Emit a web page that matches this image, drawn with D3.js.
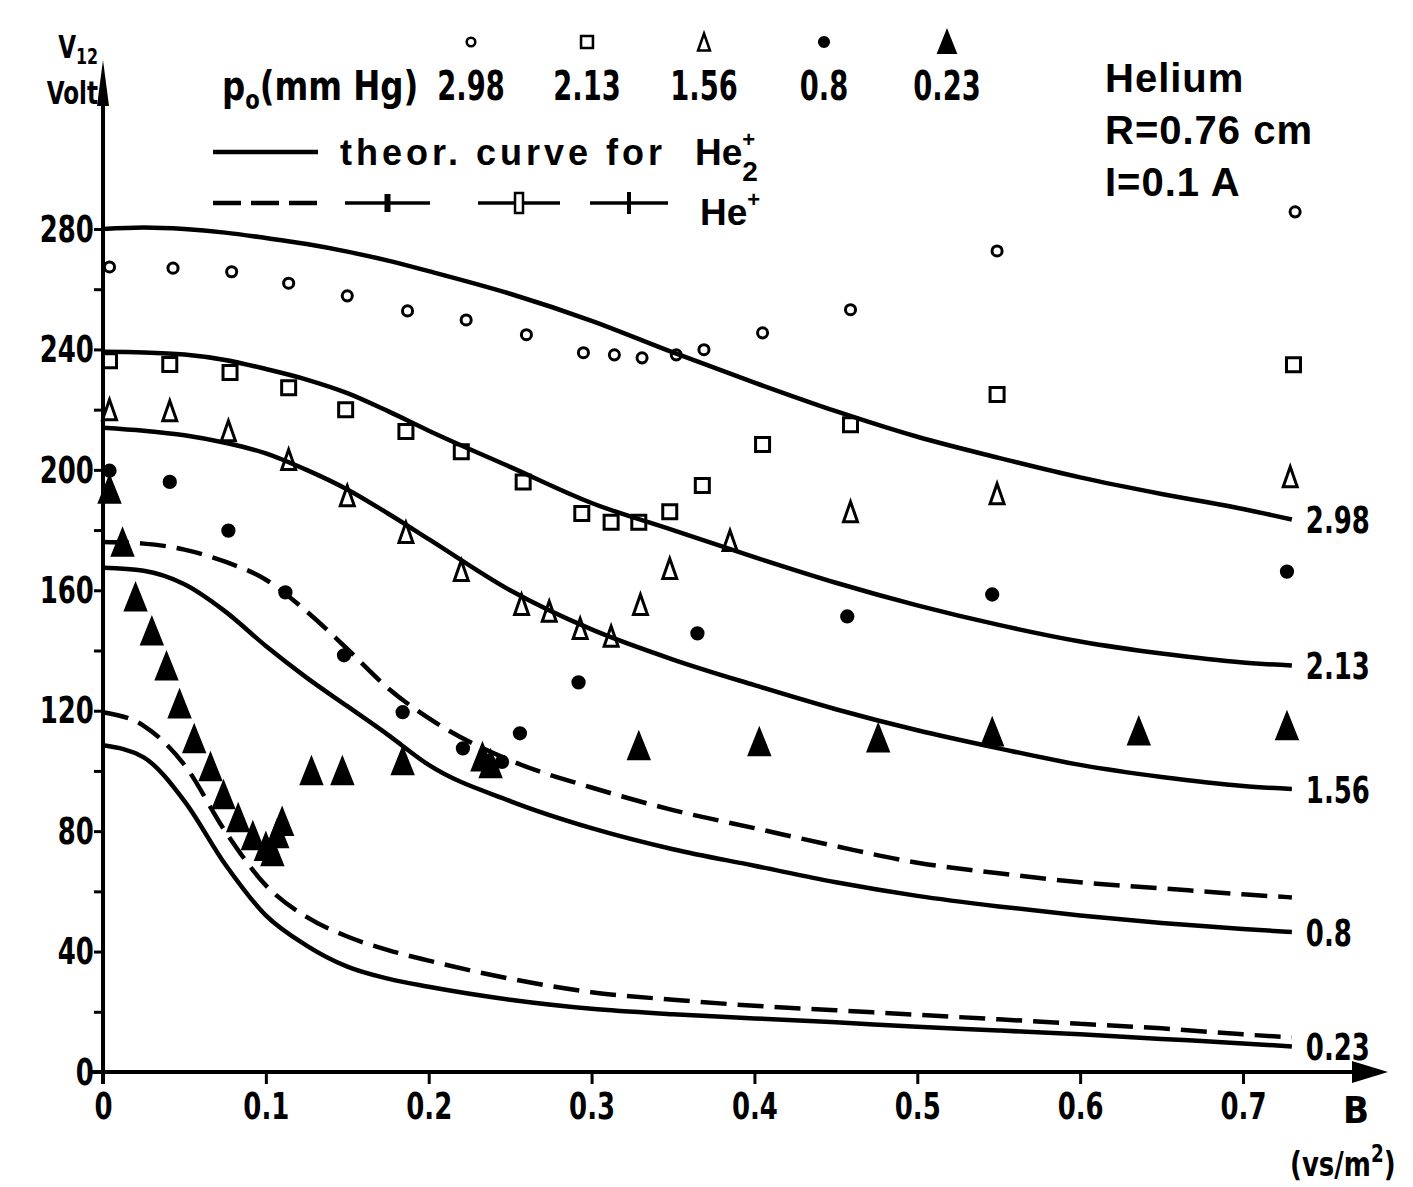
<!DOCTYPE html>
<html>
<head>
<meta charset="utf-8">
<script src="https://cdn.jsdelivr.net/npm/d3@7"></script>
<style>
  body { margin: 0; background: #fff; }
  svg text { font-family: "DejaVu Sans Condensed", "DejaVu Sans", sans-serif; font-weight: bold; fill: #000; }
  svg text.wide { font-family: "Liberation Sans", "DejaVu Sans", sans-serif; }
</style>
</head>
<body>
<svg id="chart" width="1413" height="1187"></svg>
<script>
(function () {
  "use strict";

  // ---- data (B in Vs/m^2, V12 in volt) ----
  var pressures = ["2.98", "2.13", "1.56", "0.8", "0.23"];

  // B positions at which the theoretical curves were sampled
  var curveB = [0, 0.025, 0.05, 0.075, 0.1, 0.125, 0.15, 0.175, 0.2, 0.25,
                0.3, 0.35, 0.4, 0.45, 0.5, 0.55, 0.6, 0.65, 0.7, 0.73];

  // theoretical curves for He2+ (solid)
  var he2_298 = [280, 280.5, 280, 278.8, 277, 275, 272.5, 269.5, 266, 258.5,
                 249.5, 239, 229, 219.5, 211, 204, 197.5, 192, 187, 183.5];
  var he2_213 = [239.2, 239, 238.3, 236.5, 233.5, 230, 225.5, 219.5, 213, 201,
                 189, 180, 171, 162.5, 155, 148.5, 143, 139, 136, 135];
  var he2_156 = [214, 213, 211.5, 209, 205.5, 200, 193.5, 185.5, 177, 160,
                 147, 137, 128.5, 120.5, 113.5, 107.5, 102, 98, 95, 94];
  var he2_08  = [167.5, 166.5, 162, 153, 141.5, 131, 121.5, 112, 102, 90,
                 81, 74, 68.5, 63, 58.5, 55, 52, 49.5, 47.5, 46.5];
  var he2_023 = [108.5, 104.5, 90, 69, 52, 42, 35, 31, 28.3, 24,
                 21, 19.2, 17.8, 16.5, 15, 13.8, 12.5, 11, 9.5, 8.5];

  // theoretical curves for He+ (dashed)
  var he1_08  = [176, 175.5, 173.5, 169.5, 163.5, 153, 140.5, 127.5, 117.5, 103.5,
                 94.5, 87, 81, 75, 69.5, 66, 63, 61, 59, 58];
  var he1_023 = [119.5, 115, 102, 80, 62, 51.5, 45, 40.5, 37, 31,
                 26.5, 24, 22, 20.5, 19, 17.5, 16, 14.5, 12.5, 11.5];

  // measured points [B, V12]
  var pts298 = [[0.004, 267.4], [0.043, 267], [0.079, 265.8], [0.114, 262], [0.150, 257.8],
                [0.187, 252.8], [0.223, 249.8], [0.260, 244.9], [0.295, 238.9], [0.314, 238.2],
                [0.331, 237.2], [0.352, 238.2], [0.369, 239.9], [0.405, 245.5], [0.459, 253.2],
                [0.549, 272.7], [0.732, 285.7]];
  var pts213 = [[0.004, 236.2], [0.041, 235], [0.078, 232.3], [0.114, 227.3], [0.149, 220],
                [0.186, 212.7], [0.220, 206], [0.258, 196], [0.294, 185.5], [0.312, 182.6],
                [0.329, 182.6], [0.348, 186.1], [0.368, 194.8], [0.405, 208.4], [0.459, 215],
                [0.549, 225], [0.731, 234.9]];
  var pts156 = [[0.004, 220], [0.041, 219.6], [0.077, 213], [0.114, 203.4], [0.150, 191.4],
                [0.186, 179.2], [0.220, 166.6], [0.257, 155.3], [0.274, 153], [0.293, 147.3],
                [0.312, 144.7], [0.330, 155.3], [0.348, 167.2], [0.385, 176.5], [0.459, 186.1],
                [0.549, 192.1], [0.729, 197.7]];
  var pts08 = [[0.004, 199.7], [0.041, 196], [0.077, 179.8], [0.112, 159.3], [0.148, 138.4],
               [0.184, 119.5], [0.221, 107.5], [0.245, 103], [0.256, 112.5], [0.292, 129.4],
               [0.365, 145.7], [0.457, 151.3], [0.546, 158.6], [0.727, 166.2]];
  var pts023 = [[0.004, 193.4], [0.012, 175.8], [0.020, 157.6], [0.030, 146.3], [0.039, 134.7],
                [0.047, 122.1], [0.056, 110.5], [0.066, 101.2], [0.074, 91.9], [0.083, 84.3],
                [0.092, 78.3], [0.100, 74.7], [0.104, 73], [0.107, 79], [0.110, 83],
                [0.128, 99.9], [0.147, 99.9], [0.184, 103.2], [0.233, 104.5], [0.238, 102.2],
                [0.329, 108.2], [0.403, 109.5], [0.476, 110.8], [0.546, 112.8], [0.636, 113.1],
                [0.727, 114.8]];

  var xTicks = [0, 0.1, 0.2, 0.3, 0.4, 0.5, 0.6, 0.7];
  var yTicks = [0, 40, 80, 120, 160, 200, 240, 280];
  var yMinor = [20, 60, 100, 140, 180, 220, 260];
  var params = ["Helium", "R=0.76 cm", "I=0.1 A"];

  // ---- drawing ----
  var svg = d3.select("#chart");
  var x = d3.scaleLinear().domain([0, 0.7]).range([103, 1243]);
  var y = d3.scaleLinear().domain([0, 280]).range([1072, 229]);
  var NARROW = 0.76;   // digits of the original lettering are tall and narrow

  // a text placed at (px, py) and squeezed horizontally
  function squeezed(parent, px, py, sx, size) {
    return parent.append("text")
        .attr("transform", "translate(" + px + "," + py + ") scale(" + sx + ",1)")
        .style("font-size", size + "px");
  }

  // marker shapes, one per pressure
  function triPath(w, h) {
    return "M0," + (-h / 2) + "L" + (w / 2) + "," + (h / 2) + "L" + (-w / 2) + "," + (h / 2) + "Z";
  }
  var markers = {
    "2.98": { path: d3.symbol(d3.symbolCircle, 80)(), fill: "none" },
    "2.13": { path: "M-7,-7H7V7H-7Z", fill: "none" },
    "1.56": { path: triPath(14, 20), fill: "none" },
    "0.8":  { path: d3.symbol(d3.symbolCircle, 100)(), fill: "#000" },
    "0.23": { path: triPath(20, 25), fill: "#000" }
  };
  var measured = { "2.98": pts298, "2.13": pts213, "1.56": pts156, "0.8": pts08, "0.23": pts023 };

  // axes
  var gy = svg.append("g").attr("transform", "translate(" + x(0) + ",0)")
      .call(d3.axisLeft(y).tickValues(yTicks).tickSize(9).tickPadding(3).tickFormat(d3.format("d")));
  gy.select(".domain").remove();
  gy.selectAll(".tick line").attr("stroke-width", 3);
  gy.selectAll(".tick text").style("font-size", "38px").attr("transform", "scale(" + NARROW + ",1)");
  var gym = svg.append("g").attr("transform", "translate(" + x(0) + ",0)")
      .call(d3.axisLeft(y).tickValues(yMinor).tickSize(9).tickFormat(""));
  gym.select(".domain").remove();
  gym.selectAll(".tick line").attr("stroke-width", 3);

  var gx = svg.append("g").attr("transform", "translate(0," + y(0) + ")")
      .call(d3.axisBottom(x).tickValues(xTicks).tickSize(12).tickPadding(8)
        .tickFormat(function (d) { return d === 0 ? "0" : d3.format(".1f")(d); }));
  gx.select(".domain").remove();
  gx.selectAll(".tick line").attr("stroke-width", 3);
  gx.selectAll(".tick text").style("font-size", "38px").attr("transform", "scale(" + NARROW + ",1)");

  // axis lines with arrows
  svg.append("line").attr("x1", 88).attr("x2", 1360).attr("y1", y(0)).attr("y2", y(0))
      .attr("stroke", "#000").attr("stroke-width", 4);
  svg.append("path").attr("d", "M1352," + (y(0) - 11) + "L1388," + y(0) + "L1352," + (y(0) + 11) + "Z");
  svg.append("line").attr("x1", x(0)).attr("x2", x(0)).attr("y1", y(0) + 12).attr("y2", 90)
      .attr("stroke", "#000").attr("stroke-width", 4);
  svg.append("path").attr("d", "M" + (x(0) - 6) + ",106L" + x(0) + ",60L" + (x(0) + 6) + ",106Z");

  // theoretical curves
  var line = d3.line()
      .x(function (d, i) { return x(curveB[i]); })
      .y(function (d) { return y(d); })
      .curve(d3.curveMonotoneX);
  var solidCurves = [he2_298, he2_213, he2_156, he2_08, he2_023];
  var dashedCurves = [he1_08, he1_023];
  svg.append("g").selectAll("path.solid").data(solidCurves).enter().append("path")
      .attr("class", "solid").attr("d", line)
      .attr("fill", "none").attr("stroke", "#000").attr("stroke-width", 4.5);
  svg.append("g").selectAll("path.dashed").data(dashedCurves).enter().append("path")
      .attr("class", "dashed").attr("d", line)
      .attr("fill", "none").attr("stroke", "#000").attr("stroke-width", 4.5)
      .attr("stroke-dasharray", "26,11");

  // curve labels at the right end
  solidCurves.forEach(function (c, i) {
    squeezed(svg, x(0.73) + 14, y(c[c.length - 1]), NARROW, 38)
        .attr("dy", "0.36em").text(pressures[i]);
  });

  // measured points
  pressures.forEach(function (p) {
    var m = markers[p];
    svg.append("g").selectAll("path").data(measured[p]).enter().append("path")
        .attr("d", m.path)
        .attr("transform", function (d) { return "translate(" + x(d[0]) + "," + y(d[1]) + ")"; })
        .attr("fill", m.fill).attr("stroke", "#000").attr("stroke-width", 3);
  });

  // ---- legend ----
  var lg = svg.append("g");
  var pText = squeezed(lg, 222, 100, 0.9, 40);
  pText.append("tspan").text("p");
  pText.append("tspan").attr("dy", 9).style("font-size", "26px").text("o");
  pText.append("tspan").attr("dy", -9).text("(mm Hg)");

  var legendX = [471, 587, 704, 824, 947];
  pressures.forEach(function (p, i) {
    squeezed(lg, legendX[i], 100, NARROW, 40).attr("text-anchor", "middle").text(p);
    lg.append("path").attr("d", markers[p].path)
        .attr("transform", "translate(" + legendX[i] + ",42) scale(0.85)")
        .attr("fill", markers[p].fill).attr("stroke", "#000").attr("stroke-width", 3);
  });

  lg.append("line").attr("x1", 213).attr("x2", 318).attr("y1", 152).attr("y2", 152)
      .attr("stroke", "#000").attr("stroke-width", 4.5);
  lg.append("text").attr("class", "wide").attr("x", 340).attr("y", 165)
      .style("font-size", "36px").style("letter-spacing", "4px").text("theor. curve for");
  var he2 = lg.append("text").attr("class", "wide").attr("x", 695).attr("y", 165).style("font-size", "37px");
  he2.append("tspan").text("He");
  he2.append("tspan").attr("dy", -18).style("font-size", "22px").text("+");
  he2.append("tspan").attr("dx", -13).attr("dy", 34).style("font-size", "28px").text("2");

  // He+ line styles
  lg.append("line").attr("x1", 213).attr("x2", 318).attr("y1", 203).attr("y2", 203)
      .attr("stroke", "#000").attr("stroke-width", 4.5).attr("stroke-dasharray", "28,10");
  [[345, 430, "bar"], [478, 560, "box"], [590, 668, "cross"]].forEach(function (s) {
    var mid = (s[0] + s[1]) / 2;
    lg.append("line").attr("x1", s[0]).attr("x2", s[1]).attr("y1", 203).attr("y2", 203)
        .attr("stroke", "#000").attr("stroke-width", 3.5);
    if (s[2] === "bar") {
      lg.append("rect").attr("x", mid - 3).attr("y", 194).attr("width", 6).attr("height", 18);
    } else if (s[2] === "box") {
      lg.append("rect").attr("x", mid - 4).attr("y", 193).attr("width", 8).attr("height", 20)
          .attr("fill", "#fff").attr("stroke", "#000").attr("stroke-width", 2.5);
    } else {
      lg.append("line").attr("x1", mid).attr("x2", mid).attr("y1", 192).attr("y2", 214)
          .attr("stroke", "#000").attr("stroke-width", 4);
    }
  });
  var he1 = lg.append("text").attr("class", "wide").attr("x", 700).attr("y", 225).style("font-size", "37px");
  he1.append("tspan").text("He");
  he1.append("tspan").attr("dy", -18).style("font-size", "22px").text("+");

  // gas / discharge parameters
  lg.selectAll("text.param").data(params).enter().append("text")
      .attr("class", "param wide")
      .attr("x", 1105).attr("y", function (d, i) { return 92 + i * 52; })
      .style("font-size", "40px").style("letter-spacing", "1px")
      .text(function (d) { return d; });

  // axis titles
  var vt = squeezed(svg, 98, 58, 0.8, 32).attr("text-anchor", "end");
  vt.append("tspan").text("V");
  vt.append("tspan").attr("dy", 6).style("font-size", "22px").text("12");
  squeezed(svg, 98, 104, 0.8, 32).attr("text-anchor", "end").text("Volt");

  svg.append("text").attr("x", 1343).attr("y", 1123).style("font-size", "38px").text("B");
  var ut = squeezed(svg, 1290, 1176, 0.85, 34);
  ut.append("tspan").text("(vs/m");
  ut.append("tspan").attr("dy", -14).style("font-size", "24px").text("2");
  ut.append("tspan").attr("dy", 14).text(")");
}());
</script>
</body>
</html>
